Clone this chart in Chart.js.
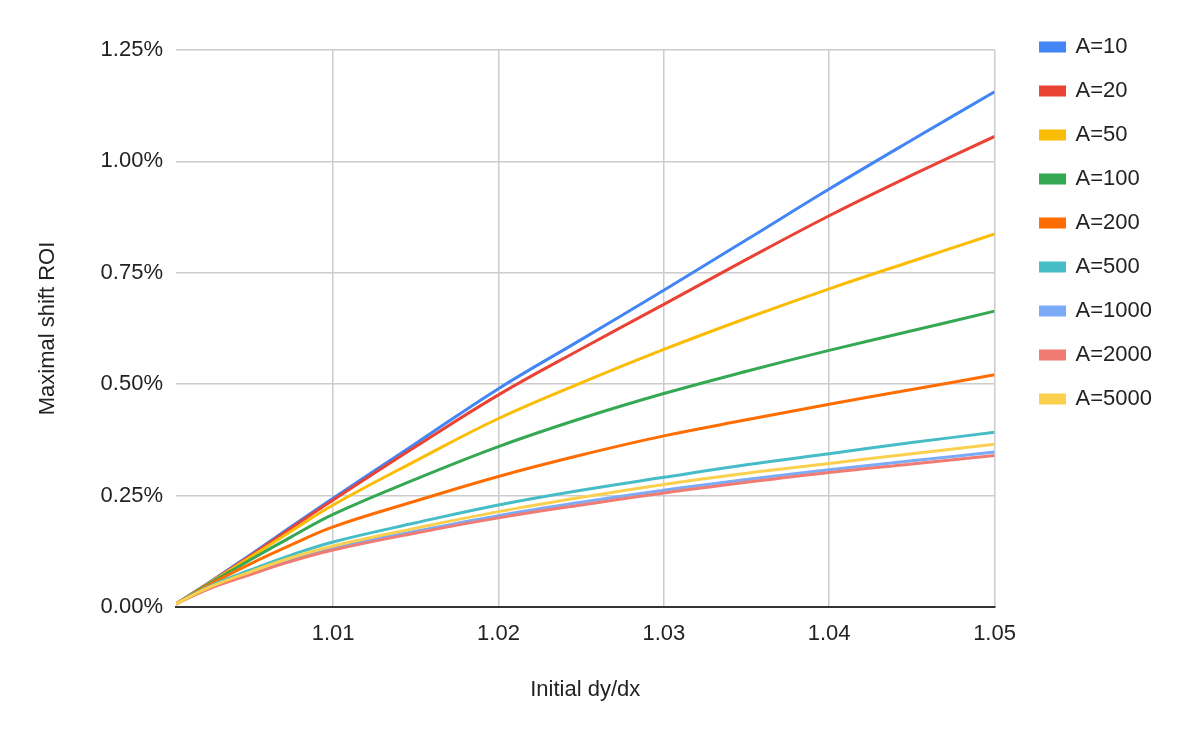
<!DOCTYPE html>
<html lang="en">
<head>
    <meta charset="UTF-8">
    <title>Maximal shift ROI</title>
    <script src="https://cdn.jsdelivr.net/npm/chart.js"></script>
    <style>
        html, body { margin: 0; padding: 0; background: #fff; }
        .chart-container { position: relative; width: 1200px; height: 742px; }
    </style>
</head>
<body>
    <div class="chart-container">
        <canvas id="roiChart"></canvas>
    </div>

    <script>
        // x values (initial dy/dx) and ROI in percent per curve
        const dydx = [1.0005, 1.0025, 1.005, 1.0075, 1.01, 1.015, 1.02, 1.025, 1.03, 1.035, 1.04, 1.045, 1.05];
        const a10   = [0.007, 0.055, 0.117, 0.181, 0.244, 0.367, 0.490, 0.600, 0.711, 0.824, 0.938, 1.048, 1.156];
        const a20   = [0.007, 0.054, 0.115, 0.178, 0.240, 0.360, 0.476, 0.579, 0.679, 0.780, 0.878, 0.969, 1.056];
        const a50   = [0.007, 0.053, 0.112, 0.171, 0.229, 0.328, 0.423, 0.503, 0.578, 0.648, 0.714, 0.776, 0.837];
        const a100  = [0.007, 0.052, 0.106, 0.158, 0.208, 0.287, 0.360, 0.423, 0.479, 0.529, 0.576, 0.620, 0.664];
        const a200  = [0.007, 0.050, 0.097, 0.140, 0.180, 0.238, 0.293, 0.341, 0.384, 0.420, 0.455, 0.488, 0.521];
        const a500  = [0.007, 0.046, 0.083, 0.117, 0.146, 0.189, 0.229, 0.262, 0.291, 0.319, 0.344, 0.369, 0.392];
        const a1000 = [0.007, 0.042, 0.075, 0.106, 0.132, 0.170, 0.205, 0.235, 0.262, 0.286, 0.308, 0.328, 0.348];
        const a2000 = [0.007, 0.041, 0.073, 0.103, 0.128, 0.166, 0.200, 0.229, 0.256, 0.280, 0.302, 0.321, 0.340];
        const a5000 = [0.007, 0.044, 0.079, 0.111, 0.137, 0.177, 0.214, 0.246, 0.275, 0.300, 0.322, 0.344, 0.365];

        const seriesNames = ['A=10', 'A=20', 'A=50', 'A=100', 'A=200', 'A=500', 'A=1000', 'A=2000', 'A=5000'];
        const seriesValues = [a10, a20, a50, a100, a200, a500, a1000, a2000, a5000];
        const seriesColors = ['#4285F4', '#EA4335', '#FBBC04', '#34A853', '#FF6D01', '#46BDC6', '#7BAAF7', '#F07B72', '#FCD04F'];

        const xTicks = [1.01, 1.02, 1.03, 1.04, 1.05];
        const yTicks = [0, 0.25, 0.5, 0.75, 1.0, 1.25];

        const fontFamily = 'Arial, "Liberation Sans", sans-serif';

        // push the legend up to the top right like the original
        const legendPlace = {
            id: 'legendPlace',
            afterLayout(chart) {
                const lg = chart.legend;
                const w = lg.right - lg.left;
                lg.left = chart.chartArea.right + 24;
                lg.right = lg.left + w;
                lg.top = 14;
            }
        };

        const ctx = document.getElementById('roiChart').getContext('2d');
        const roiChart = new Chart(ctx, {
            type: 'line',
            data: {
                datasets: seriesNames.map((name, i) => ({
                    label: name,
                    data: dydx.map((x, j) => ({ x: x, y: seriesValues[i][j] })),
                    borderColor: seriesColors[i],
                    backgroundColor: seriesColors[i],
                    borderWidth: 3,
                    pointRadius: 0,
                    tension: 0.4,
                    order: seriesNames.length - i
                }))
            },
            options: {
                responsive: true,
                maintainAspectRatio: false,
                animation: false,
                layout: { padding: { left: 35, right: 62, top: 50, bottom: 39 } },
                plugins: {
                    legend: {
                        position: 'right',
                        align: 'start',
                        labels: {
                            boxWidth: 24,
                            boxHeight: 8,
                            padding: 22,
                            color: '#222',
                            font: { family: fontFamily, size: 22 },
                            sort: (a, b) => a.datasetIndex - b.datasetIndex
                        }
                    },
                    tooltip: { enabled: false }
                },
                scales: {
                    x: {
                        type: 'linear',
                        min: 1.0005,
                        max: 1.05,
                        afterFit: s => { s.height = 96; },
                        afterBuildTicks: s => { s.ticks = xTicks.map(v => ({ value: v })); },
                        ticks: {
                            padding: 14,
                            color: '#222',
                            font: { family: fontFamily, size: 22 },
                            maxRotation: 0,
                            callback: v => v.toFixed(2)
                        },
                        grid: { color: '#cccccc', lineWidth: 1.5, drawTicks: false },
                        border: { color: '#333333', width: 2 },
                        title: {
                            display: true,
                            text: 'Initial dy/dx',
                            color: '#222',
                            padding: 0,
                            font: { family: fontFamily, size: 22 }
                        }
                    },
                    y: {
                        min: 0,
                        max: 1.25,
                        afterFit: s => { s.width = 141; },
                        afterBuildTicks: s => { s.ticks = yTicks.map(v => ({ value: v })); },
                        ticks: {
                            padding: 13,
                            color: '#222',
                            font: { family: fontFamily, size: 22 },
                            callback: v => v.toFixed(2) + '%'
                        },
                        grid: { color: '#cccccc', lineWidth: 1.5, drawTicks: false },
                        border: { display: false },
                        title: {
                            display: true,
                            text: 'Maximal shift ROI',
                            color: '#222',
                            padding: 0,
                            font: { family: fontFamily, size: 22 }
                        }
                    }
                }
            },
            plugins: [legendPlace]
        });
    </script>
</body>
</html>
